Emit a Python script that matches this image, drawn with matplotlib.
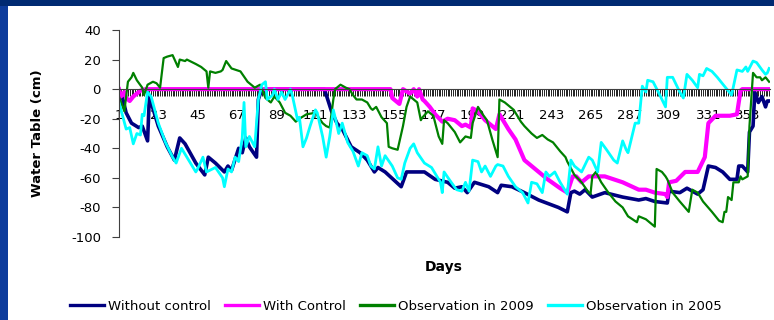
import matplotlib.pyplot as plt
from matplotlib.patches import Rectangle

plt.rcParams['font.family'] = 'DejaVu Sans'
plt.rcParams['axes.unicode_minus'] = False

# Water table depth (cm), as (day, value) vertices
nav_days = [1, 3, 5, 8, 12, 14, 17, 18, 23, 28, 32, 35, 38, 44, 49, 51, 55, 60, 62, 64,
            68, 70, 72, 74, 78, 79, 81, 116, 120, 123, 126, 131, 136, 140, 144, 146, 150, 159, 162, 167,
            172, 178, 185, 189, 193, 196, 200, 208, 213, 215, 221, 228, 236, 247, 252, 254, 256, 259, 262, 266,
            273, 283, 292, 296, 301, 308, 309, 315, 319, 325, 328, 331, 335, 339, 343, 347, 348, 350, 353, 354,
            356, 357, 359, 361, 363, 364, 365]
nav_vals = [-4, -6, -16, -23, -26, -25, -35, -5, -25, -39, -48, -33, -37, -50, -58, -46, -50, -56, -52, -55,
            -40, -43, -33, -39, -46, -7, 0, 0, -15, -23, -27, -39, -43, -48, -56, -53, -56, -66, -56, -56,
            -56, -61, -63, -67, -66, -70, -63, -66, -70, -65, -66, -70, -75, -80, -83, -70, -69, -71, -68, -73,
            -70, -73, -75, -74, -76, -77, -69, -70, -67, -71, -68, -52, -53, -56, -61, -61, -52, -52, -56, -29,
            -25, -2, -9, -5, -12, -8, -8]

mag_days = [1, 2, 4, 5, 7, 9, 13, 16, 153, 154, 158, 160, 164, 166, 168, 169, 171, 172, 175, 178,
            182, 185, 189, 193, 195, 198, 199, 202, 206, 212, 214, 219, 223, 228, 236, 241, 248, 252, 255, 257,
            260, 264, 273, 283, 292, 296, 301, 307, 308, 309, 313, 318, 325, 329, 331, 335, 343, 347, 349, 350,
            365]
mag_vals = [0, -5, -2, -6, -8, -5, -1, 0, 0, -6, -10, 0, -3, 0, -5, 0, -7, -8, -12, -17,
            -22, -20, -21, -25, -24, -26, -13, -15, -21, -27, -17, -27, -34, -48, -56, -61, -67, -70, -59, -59,
            -63, -59, -59, -63, -68, -68, -70, -71, -73, -63, -62, -56, -56, -46, -23, -18, -18, -17, -1, 0,
            0]

grn_days = [1, 4, 6, 8, 9, 11, 14, 15, 17, 20, 22, 24, 26, 28, 31, 34, 35, 38, 39, 44,
            47, 50, 51, 52, 55, 58, 59, 61, 64, 69, 73, 74, 77, 80, 83, 86, 88, 91, 94, 97,
            100, 102, 106, 111, 115, 117, 119, 121, 122, 125, 128, 130, 132, 134, 137, 140, 142, 143, 145, 148,
            151, 152, 154, 157, 160, 162, 164, 166, 168, 170, 171, 174, 177, 180, 182, 183, 185, 189, 192, 195,
            198, 199, 202, 204, 207, 210, 213, 214, 217, 222, 226, 228, 232, 235, 238, 241, 244, 248, 251, 252,
            256, 260, 264, 265, 266, 268, 271, 275, 279, 283, 286, 291, 292, 296, 301, 302, 305, 307, 308, 311,
            315, 320, 322, 325, 328, 333, 337, 339, 340, 341, 342, 344, 345, 348, 349, 350, 353, 354, 356, 358,
            360, 361, 363, 365]
grn_vals = [-5, -15, 5, 8, 11, 6, 1, -4, 3, 5, 4, 1, 21, 22, 23, 15, 20, 19, 20, 17,
            15, 12, 1, 12, 11, 12, 13, 19, 14, 12, 5, 4, 1, 3, -6, -9, -5, -9, -16, -18,
            -22, -20, -17, -16, -23, -25, -26, -7, 0, 3, 1, 0, -4, -7, -7, -9, -13, -14, -12, -19,
            -23, -39, -40, -41, -25, -12, -5, -7, -9, -21, -19, -15, -18, -32, -37, -21, -23, -29, -36, -32,
            -33, -23, -12, -16, -21, -34, -46, -7, -9, -14, -22, -25, -30, -33, -31, -34, -36, -42, -46, -49,
            -58, -63, -70, -71, -59, -56, -63, -70, -76, -80, -86, -90, -86, -88, -93, -54, -56, -59, -61, -70,
            -76, -83, -68, -70, -76, -83, -89, -90, -83, -83, -73, -75, -63, -63, -59, -61, -59, -25, 11, 8,
            8, 6, 8, 5]

cyn_days = [1, 3, 5, 7, 9, 11, 13, 14, 15, 17, 19, 23, 27, 31, 33, 36, 40, 44, 45, 48,
            50, 55, 59, 60, 62, 64, 66, 68, 70, 71, 72, 74, 77, 79, 81, 83, 84, 87, 88, 90,
            92, 94, 97, 98, 101, 102, 104, 106, 108, 111, 112, 115, 117, 119, 121, 122, 124, 126, 129, 132,
            135, 137, 140, 142, 144, 146, 148, 150, 154, 157, 159, 161, 164, 166, 168, 172, 176, 179, 181, 182,
            183, 187, 190, 193, 195, 197, 199, 202, 204, 206, 209, 212, 213, 216, 219, 223, 227, 230, 232, 235,
            238, 240, 242, 245, 248, 252, 254, 256, 260, 264, 266, 269, 271, 274, 278, 280, 283, 285, 286, 290,
            292, 294, 296, 297, 300, 303, 307, 308, 311, 315, 317, 319, 322, 325, 326, 328, 330, 333, 336, 340,
            344, 347, 350, 352, 353, 356, 358, 361, 363, 364, 365]
cyn_vals = [-9, -18, -27, -26, -37, -30, -31, -17, -18, -2, -5, -23, -36, -46, -50, -40, -48, -56, -54, -46,
            -56, -53, -60, -66, -54, -56, -46, -49, -33, -9, -39, -32, -39, -7, 3, 5, -7, -4, 0, -7,
            -2, -7, 0, -4, -21, -19, -39, -33, -25, -14, -16, -32, -46, -32, -14, -19, -30, -23, -36, -42,
            -52, -43, -45, -52, -54, -39, -52, -45, -52, -60, -61, -50, -40, -37, -43, -50, -53, -59, -63, -70,
            -56, -63, -68, -69, -63, -69, -48, -49, -56, -52, -59, -52, -51, -52, -59, -66, -70, -77, -63, -64,
            -70, -56, -59, -56, -63, -71, -48, -52, -56, -46, -48, -56, -36, -41, -48, -50, -35, -41, -43, -23,
            -23, 2, -2, 6, 5, -2, -12, 8, 8, -2, -6, 10, 6, 1, 10, 9, 14, 12, 8, 2,
            -4, 13, 12, 15, 12, 19, 18, 13, 10, 11, 14]

x_labels = list(range(1, 366, 22))
y_ticks = list(range(-100, 41, 20))

fig = plt.figure(figsize=(7.74, 3.2), dpi=100)
fig.patch.set_facecolor('#0d3c9c')
fig.add_artist(Rectangle((0, 1 - 6 / 320), 1, 6 / 320, transform=fig.transFigure,
                         facecolor='#002a72', edgecolor='none', zorder=-2))
fig.add_artist(Rectangle((8 / 774, 0), 1, 1 - 6 / 320, transform=fig.transFigure,
                         facecolor='white', edgecolor='none', zorder=-1))

ax = fig.add_axes([119 / 774, 1 - 237 / 320, 651 / 774, 207 / 320])
ax.set_facecolor('none')

ax.plot(nav_days, nav_vals, color='#000080', lw=2.6, label='Without control')
ax.plot(mag_days, mag_vals, color='#ff00ff', lw=3.0, label='With Control')
ax.plot(grn_days, grn_vals, color='#008000', lw=1.6, label='Observation in 2009')
ax.plot(cyn_days, cyn_vals, color='#00ffff', lw=2.0, label='Observation in 2005')

ax.set_xlim(1, 365.5)
ax.set_ylim(-100, 40)

for s in ['top', 'right']:
    ax.spines[s].set_visible(False)
ax.spines['bottom'].set_position(('data', 0))
ax.spines['bottom'].set_color('#404040')
ax.spines['left'].set_color('#404040')

ax.set_xticks(x_labels)
ax.set_xticklabels([str(d) for d in x_labels])
ax.set_xticks(range(1, 366), minor=True)
ax.tick_params(axis='x', which='both', length=5, width=0.7, direction='out', color='#202020')
ax.tick_params(axis='x', which='major', pad=9, labelsize=9.5)
ax.set_yticks(y_ticks)
ax.tick_params(axis='y', length=5, width=0.8, color='#404040', pad=8, labelsize=9.5)

ax.set_ylabel('Water Table (cm)', fontweight='bold', fontsize=9.5)
ax.yaxis.set_label_coords(-0.115, 0.5)
fig.text(444 / 774, 1 - 267 / 320, 'Days', ha='center', va='center', fontweight='bold', fontsize=10)

leg = fig.legend(loc='center', bbox_to_anchor=(396 / 774, 1 - 306 / 320), ncol=4, frameon=False,
                 handlelength=2.6, handletextpad=0.3, columnspacing=1.05, fontsize=9.5)
for line in leg.get_lines():
    line.set_linewidth(2.4)

fig.savefig('out.png', dpi=100, facecolor=fig.get_facecolor())
